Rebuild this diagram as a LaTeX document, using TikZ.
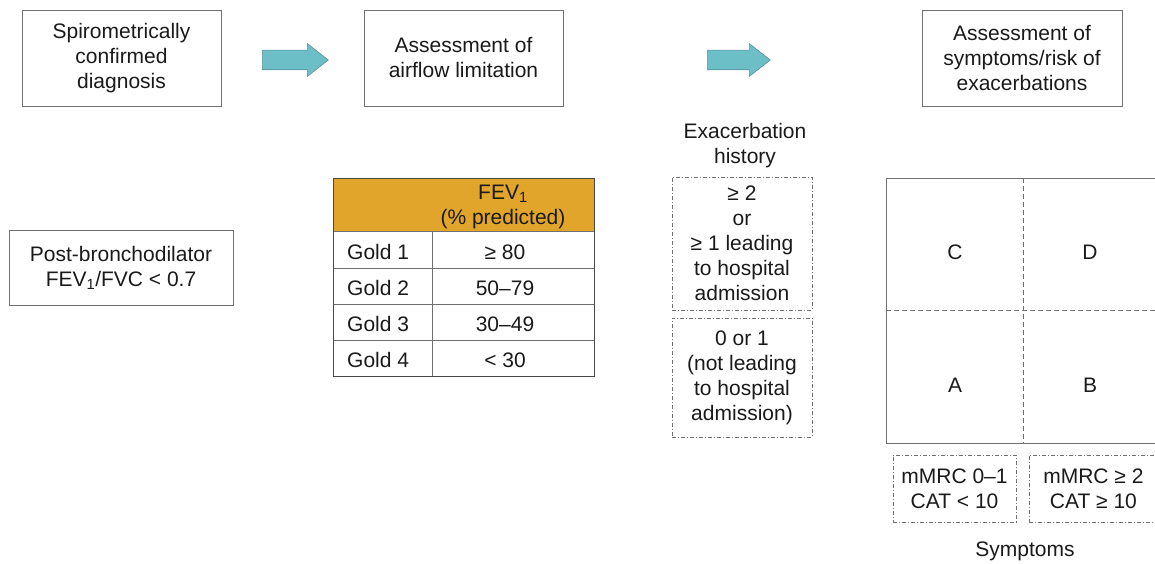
\documentclass[tikz,border=0pt]{standalone}
\usepackage{fontspec}
\setmainfont{Liberation Sans}
\usetikzlibrary{shapes.arrows}
\definecolor{boxline}{HTML}{707070}
\definecolor{arrowfill}{HTML}{6CBEC7}
\definecolor{arrowline}{HTML}{5E8E94}
\definecolor{headgold}{HTML}{E2A52B}
\definecolor{txt}{HTML}{1A1A1A}
\begin{document}
\begin{tikzpicture}[x=1pt,y=-1pt,
  every node/.style={text=txt},
  font=\fontsize{21}{25}\selectfont,
  box/.style={draw=boxline, line width=0.9pt, align=center, inner sep=0pt},
  dashbox/.style={draw=boxline, line width=0.8pt, dash pattern=on 4pt off 2pt on 1pt off 2pt, align=center, inner sep=0pt},
  blockarrow/.style={single arrow, draw=arrowline, fill=arrowfill, line width=0.6pt, anchor=tail,
    minimum height=66pt, inner xsep=0pt, inner ysep=9.5pt, text height=0pt, text depth=0pt,
    single arrow head extend=6.5pt, single arrow tip angle=76},
  cell/.style={inner sep=0pt, font=\fontsize{21}{25}\selectfont},
  gridline/.style={draw=boxline, line width=0.9pt},
  quad/.style={draw=boxline, line width=0.8pt, dash pattern=on 5pt off 3pt},
]
\useasboundingbox (0,0) rectangle (1155,564);

% top row
\node[box, minimum width=199pt, minimum height=96pt] (diag) at (121.5,58) {Spirometrically\\confirmed\\diagnosis};
\node[box, minimum width=199pt, minimum height=96pt] (airflow) at (463.5,58) {Assessment of\\airflow limitation};
\node[box, minimum width=200pt, minimum height=96pt] (symp) at (1022,58) {Assessment of\\symptoms/risk of\\exacerbations};
\node[blockarrow] (arr1) at (262,60) {};
\node[blockarrow, minimum height=63pt] (arr2) at (707,60) {};

% post-bronchodilator
\node[box, minimum width=224pt, minimum height=75pt] (post) at (121,267.5) {Post-bronchodilator\\FEV\textsubscript{1}/FVC < 0.7};

% table
\fill[headgold] (333,178) rectangle (594,231);
\draw[boxline, line width=0.6pt] (333,268) -- (594,268) (333,304) -- (594,304) (333,340) -- (594,340) (432,231) -- (432,376);
\draw[boxline, line width=0.6pt] (333,231) -- (594,231);
\draw[txt!80, line width=1pt] (333,178) rectangle (594,376);
\node[cell, align=center] (fevh) at (503,207) {FEV\textsubscript{1}\\(\% predicted)};
\node[cell, anchor=west] (g1) at (347,252) {Gold 1};
\node[cell, anchor=west] (g2) at (347,288) {Gold 2};
\node[cell, anchor=west] (g3) at (347,324) {Gold 3};
\node[cell, anchor=west] (g4) at (347,360) {Gold 4};
\node[cell] (v1) at (505,252) {≥ 80};
\node[cell] (v2) at (505,288) {50–79};
\node[cell] (v3) at (505,324) {30–49};
\node[cell] (v4) at (505,360) {< 30};

% exacerbation history
\node[align=center, inner sep=0pt] (exh) at (745,146) {Exacerbation\\history};
\node[dashbox, minimum width=140pt, minimum height=133pt] (ex2) at (742,243.5) {≥ 2\\or\\≥ 1 leading\\to hospital\\admission};
\node[dashbox, minimum width=140pt, minimum height=119pt] (ex0) at (742,377.5) {0 or 1\\(not leading\\to hospital\\admission)};

% quadrant grid
\draw[gridline] (1162,178) -- (886,178) -- (886,443) -- (1162,443);
\draw[quad] (1023,178) -- (1023,443);
\draw[quad] (886,310) -- (1160,310);
\node (qC) at (955,252) {C};
\node (qD) at (1090,252) {D};
\node (qA) at (955,385) {A};
\node (qB) at (1090,385) {B};

% symptoms
\node[dashbox, minimum width=123pt, minimum height=67pt] (m0) at (954.5,488.5) {mMRC 0–1\\CAT < 10};
\node[dashbox, minimum width=128pt, minimum height=67pt, anchor=west] (m2) at (1029,488.5) {mMRC ≥ 2\\CAT ≥ 10};
\node (sym) at (1025,551) {Symptoms};
\end{tikzpicture}
\end{document}
